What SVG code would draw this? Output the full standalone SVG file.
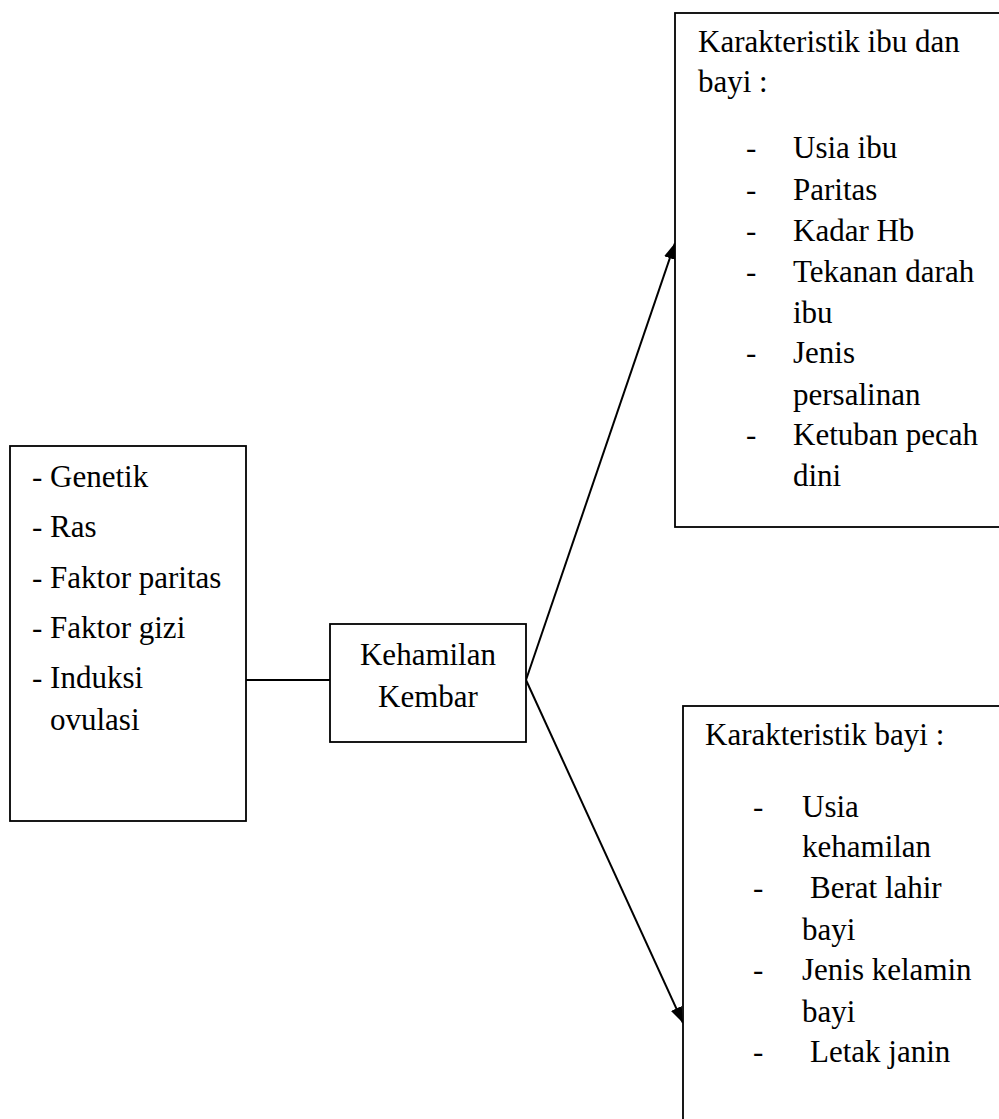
<svg xmlns="http://www.w3.org/2000/svg" width="999" height="1119" viewBox="0 0 999 1119">
<defs>
<marker id="arr" viewBox="0 0 16 12" refX="16" refY="6" markerWidth="16" markerHeight="12" markerUnits="userSpaceOnUse" orient="auto">
<path d="M0,0 L16,6 L0,12 z" fill="#000"/>
</marker>
</defs>
<rect width="999" height="1119" fill="#fff"/>
<g id="connectors" stroke="#000" stroke-width="2" fill="none">
<line x1="246" y1="680" x2="330" y2="680"/>
<line x1="526" y1="680" x2="675" y2="243" marker-end="url(#arr)"/>
<line x1="526" y1="680" x2="683" y2="1023" marker-end="url(#arr)"/>
</g>
<g font-family="Liberation Serif" font-size="31" fill="#000">
<g id="factors">
<rect x="10" y="446" width="236" height="375" fill="#fff" stroke="#000" stroke-width="1.8"/>
<text x="32" y="487">- Genetik</text>
<text x="32" y="537">- Ras</text>
<text x="32" y="588">- Faktor paritas</text>
<text x="32" y="638">- Faktor gizi</text>
<text x="32" y="688">- Induksi</text>
<text x="50" y="730">ovulasi</text>
</g>
<g id="kehamilan">
<rect x="330" y="624" width="196" height="118" fill="#fff" stroke="#000" stroke-width="1.8"/>
<text x="428" y="665" text-anchor="middle">Kehamilan</text>
<text x="428" y="707" text-anchor="middle">Kembar</text>
</g>
<g id="ibu-bayi">
<rect x="675" y="13" width="330" height="514" fill="#fff" stroke="#000" stroke-width="1.8"/>
<text x="698" y="52">Karakteristik ibu dan</text>
<text x="698" y="92">bayi :</text>
<text x="746" y="158">-</text><text x="793" y="158">Usia ibu</text>
<text x="746" y="200">-</text><text x="793" y="200">Paritas</text>
<text x="746" y="241">-</text><text x="793" y="241">Kadar Hb</text>
<text x="746" y="282">-</text><text x="793" y="282">Tekanan darah</text>
<text x="793" y="323">ibu</text>
<text x="746" y="363">-</text><text x="793" y="363">Jenis</text>
<text x="793" y="405">persalinan</text>
<text x="746" y="445">-</text><text x="793" y="445">Ketuban pecah</text>
<text x="793" y="486">dini</text>
</g>
<g id="bayi">
<rect x="683" y="706" width="330" height="430" fill="#fff" stroke="#000" stroke-width="1.8"/>
<text x="705" y="745">Karakteristik bayi :</text>
<text x="753" y="817">-</text><text x="802" y="817">Usia</text>
<text x="802" y="857">kehamilan</text>
<text x="753" y="898">-</text><text x="810" y="898">Berat lahir</text>
<text x="802" y="940">bayi</text>
<text x="753" y="980">-</text><text x="802" y="980">Jenis kelamin</text>
<text x="802" y="1022">bayi</text>
<text x="753" y="1062">-</text><text x="810" y="1062">Letak janin</text>
</g>
</g>
</svg>
